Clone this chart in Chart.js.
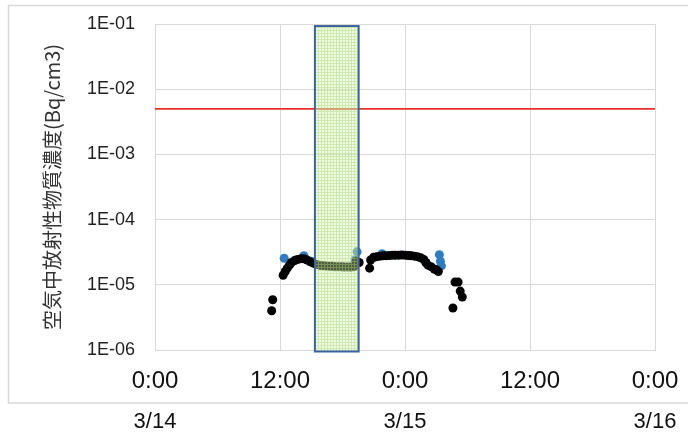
<!DOCTYPE html>
<html><head><meta charset="utf-8">
<script src="https://cdn.jsdelivr.net/npm/chart.js@4/dist/chart.umd.min.js"></script>
<style>html,body{margin:0;padding:0;background:#fff}#wrap{width:688px;height:435px;position:relative}</style>
</head><body><div id="wrap"><canvas id="c" width="688" height="435"></canvas></div>
<script>
// ---- data ----
const hourTicks = [0, 12, 24, 36, 48];
const hourTickLabels = ['0:00', '12:00', '0:00', '12:00', '0:00'];
const dateTicks = [0, 24, 48];
const dateTickLabels = ['3/14', '3/15', '3/16'];
const yTickValues = [1e-6, 1e-5, 1e-4, 1e-3, 1e-2, 1e-1];
const yTickLabels = ['1E-06', '1E-05', '1E-04', '1E-03', '1E-02', '1E-01'];
const yTitle = '空気中放射性物質濃度(Bq/cm3)';

// hours since 3/14 0:00
const blackHours = [11.2, 11.3, 12.3, 12.5, 12.7, 12.9, 13.1, 13.4, 13.7, 14.0, 14.3, 14.6, 14.9, 15.2,
  15.5, 15.8, 16.1, 16.4, 16.7, 17.0, 17.3, 17.6, 17.9, 18.2, 18.5, 18.8, 19.1, 19.3, 19.6,
  20.6, 20.7, 21.0, 21.3, 21.6, 21.9, 22.2, 22.5, 22.8, 23.1, 23.4, 23.7, 24.0, 24.3, 24.6, 24.9,
  25.2, 25.5, 25.8, 26.0, 26.2, 26.5, 26.8, 27.0, 27.2, 28.6, 28.8, 29.1, 29.3, 29.5];
const blackValues = [4.0e-6, 5.9e-6, 1.4e-5, 1.6e-5, 1.8e-5, 2.0e-5, 2.2e-5, 2.35e-5, 2.45e-5, 2.5e-5, 2.5e-5, 2.4e-5, 2.25e-5, 2.15e-5,
  2.05e-5, 2.0e-5, 1.98e-5, 1.95e-5, 1.93e-5, 1.92e-5, 1.9e-5, 1.9e-5, 1.9e-5, 1.88e-5, 1.88e-5, 1.87e-5, 1.9e-5, 2.3e-5, 2.2e-5,
  1.8e-5, 2.4e-5, 2.65e-5, 2.7e-5, 2.75e-5, 2.78e-5, 2.8e-5, 2.82e-5, 2.85e-5, 2.85e-5, 2.85e-5, 2.86e-5, 2.85e-5, 2.82e-5, 2.8e-5, 2.75e-5,
  2.7e-5, 2.6e-5, 2.45e-5, 2.2e-5, 2.0e-5, 1.9e-5, 1.75e-5, 1.7e-5, 1.6e-5, 4.4e-6, 1.1e-5, 1.1e-5, 8.0e-6, 6.5e-6];

const blueHours = [12.4, 13.0, 13.5, 14.3, 15.0, 16.0, 17.0, 18.0, 19.2, 19.4, 21.0, 21.8, 23.0, 24.5, 26.0, 27.3, 27.4, 27.5];
const blueValues = [2.55e-5, 2.1e-5, 2.4e-5, 2.8e-5, 2.3e-5, 1.98e-5, 1.92e-5, 1.88e-5, 2.4e-5, 3.2e-5, 2.65e-5, 3.0e-5, 2.85e-5, 2.8e-5, 2.2e-5, 2.9e-5, 2.3e-5, 1.95e-5];

const limitHours = [0, 48];
const limitValues = [5e-3, 5e-3];

const bandHours = [15.35, 19.55];
const bandValues = [1e-6, 0.093];

// ---- helpers ----
const toXY = (xs, ys) => xs.map((x, i) => ({x: x, y: ys[i]}));

function makePattern(ctx) {
  const p = document.createElement('canvas');
  p.width = 3; p.height = 3;
  const g = p.getContext('2d');
  g.fillStyle = 'rgba(215,238,175,0.38)';
  g.fillRect(0, 0, 3, 3);
  g.fillStyle = 'rgba(165,212,110,0.45)';
  g.fillRect(0, 0, 3, 1);
  g.fillRect(0, 1, 1, 2);
  return ctx.createPattern(p, 'repeat');
}

const framePlugin = {
  id: 'frame',
  beforeDraw(chart) {
    const ctx = chart.ctx;
    ctx.save();
    ctx.fillStyle = '#fff';
    ctx.fillRect(0, 0, chart.width, chart.height);
    ctx.strokeStyle = '#d9d9d9';
    ctx.lineWidth = 1.5;
    ctx.beginPath();
    ctx.moveTo(690, 5.5); ctx.lineTo(8.5, 5.5); ctx.lineTo(8.5, 403); ctx.lineTo(690, 403);
    ctx.stroke();
    ctx.restore();
  }
};

const bandPlugin = {
  id: 'band',
  afterDatasetsDraw(chart) {
    const ctx = chart.ctx;
    const xs = chart.scales.x, ys = chart.scales.y;
    const x0 = xs.getPixelForValue(bandHours[0]);
    const x1 = xs.getPixelForValue(bandHours[1]);
    const y0 = ys.getPixelForValue(bandValues[1]);
    const y1 = ys.getPixelForValue(bandValues[0]) + 1.5;
    ctx.save();
    ctx.fillStyle = makePattern(ctx);
    ctx.fillRect(x0, y0, x1 - x0, y1 - y0);
    ctx.strokeStyle = '#3b62a0';
    ctx.lineWidth = 2;
    ctx.strokeRect(x0, y0, x1 - x0, y1 - y0);
    ctx.restore();
  }
};

const tickFont = {family: 'Liberation Sans, Arial, sans-serif'};
const noHPad = s => { s.paddingLeft = 0; s.paddingRight = 0; };

new Chart(document.getElementById('c'), {
  type: 'scatter',
  data: {
    datasets: [
      {label: 'black', data: toXY(blackHours, blackValues), backgroundColor: '#000', borderWidth: 0, pointRadius: 4.5, pointHoverRadius: 4.5},
      {label: 'blue', data: toXY(blueHours, blueValues), backgroundColor: '#2e7dc2', borderWidth: 0, pointRadius: 4.5, pointHoverRadius: 4.5},
      {label: 'limit', data: toXY(limitHours, limitValues), showLine: true, borderColor: '#e8302a', borderWidth: 1.8, pointRadius: 0, backgroundColor: '#e8302a'}
    ]
  },
  options: {
    responsive: false,
    animation: false,
    devicePixelRatio: 1,
    layout: {padding: {top: 24, right: 33, left: 0, bottom: 0}},
    plugins: {legend: {display: false}, tooltip: {enabled: false}},
    scales: {
      x: {
        type: 'linear', position: 'bottom', min: 0, max: 48,
        afterBuildTicks: s => { s.ticks = hourTicks.map(v => ({value: v})); },
        afterFit: s => { s.height = 53; noHPad(s); },
        grid: {color: '#d9d9d9', drawTicks: false, lineWidth: 1},
        border: {color: '#d9d9d9'},
        ticks: {
          callback: (v, i) => hourTickLabels[i],
          font: {...tickFont, size: 24}, color: '#111', padding: 17,
          maxRotation: 0, autoSkip: false
        }
      },
      x2: {
        type: 'linear', position: 'bottom', min: 0, max: 48,
        afterBuildTicks: s => { s.ticks = dateTicks.map(v => ({value: v})); },
        afterFit: s => { s.height = 32; noHPad(s); },
        grid: {display: false, drawTicks: false},
        border: {display: false},
        ticks: {
          callback: (v, i) => dateTickLabels[i],
          font: {...tickFont, size: 22}, color: '#111', padding: 6,
          maxRotation: 0, autoSkip: false
        }
      },
      y: {
        type: 'logarithmic', min: 1e-6, max: 1e-1,
        afterBuildTicks: s => { s.ticks = yTickValues.map(v => ({value: v})); },
        afterFit: s => { s.width = 155; s.paddingTop = 0; s.paddingBottom = 0; },
        grid: {color: '#d9d9d9', drawTicks: false, lineWidth: 1},
        border: {color: '#d9d9d9'},
        ticks: {
          callback: (v, i) => yTickLabels[i],
          font: {...tickFont, size: 18}, color: '#222', padding: 20
        },
        title: {
          display: true, text: yTitle,
          font: {family: 'Noto Sans CJK JP, sans-serif', size: 20}, color: '#333',
          padding: {top: 40, bottom: 0}
        }
      }
    }
  },
  plugins: [framePlugin, bandPlugin]
});
</script>
</body></html>
